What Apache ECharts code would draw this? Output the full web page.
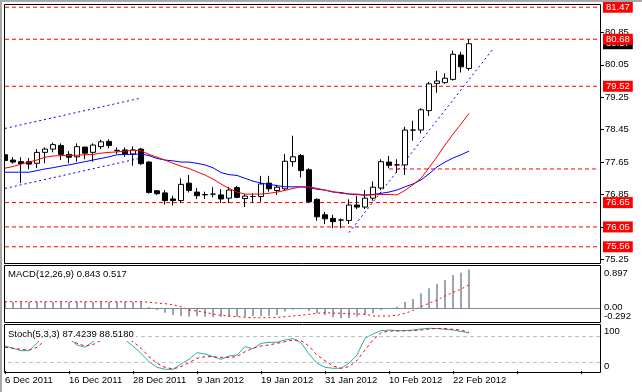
<!DOCTYPE html>
<html><head><meta charset="utf-8">
<script src="https://cdn.jsdelivr.net/npm/echarts@6/dist/echarts.min.js"></script>
<style>html,body{margin:0;padding:0;background:#fff}#c{width:642px;height:392px}</style>
</head><body><div id="c"></div>
<script>
const dates = ['6 Dec 2011','7 Dec 2011','8 Dec 2011','9 Dec 2011','12 Dec 2011','13 Dec 2011','14 Dec 2011','15 Dec 2011','16 Dec 2011','19 Dec 2011','20 Dec 2011','21 Dec 2011','22 Dec 2011','23 Dec 2011','26 Dec 2011','27 Dec 2011','28 Dec 2011','29 Dec 2011','30 Dec 2011','2 Jan 2012','3 Jan 2012','4 Jan 2012','5 Jan 2012','6 Jan 2012','9 Jan 2012','10 Jan 2012','11 Jan 2012','12 Jan 2012','13 Jan 2012','16 Jan 2012','17 Jan 2012','18 Jan 2012','19 Jan 2012','20 Jan 2012','23 Jan 2012','24 Jan 2012','25 Jan 2012','26 Jan 2012','27 Jan 2012','30 Jan 2012','31 Jan 2012','1 Feb 2012','2 Feb 2012','3 Feb 2012','6 Feb 2012','7 Feb 2012','8 Feb 2012','9 Feb 2012','10 Feb 2012','13 Feb 2012','14 Feb 2012','15 Feb 2012','16 Feb 2012','17 Feb 2012','20 Feb 2012','21 Feb 2012','22 Feb 2012','23 Feb 2012','24 Feb 2012'];
const futureSlots = 16;

const openP  = [77.83,77.70,77.66,77.66,77.62,77.89,77.97,78.06,77.84,77.78,78.02,77.89,78.03,78.16,77.94,77.95,77.85,77.97,77.65,76.94,76.89,76.74,76.70,77.13,76.91,76.85,76.86,76.84,76.76,77.02,76.75,76.80,76.80,77.13,76.95,76.99,77.66,77.81,77.46,76.73,76.35,76.26,76.22,76.21,76.59,76.54,76.76,77.01,77.65,77.58,77.58,78.44,78.44,78.92,79.59,79.61,79.69,80.29,79.96];
const closeP = [77.69,77.65,77.61,77.60,77.89,77.97,78.08,77.84,77.77,78.03,77.87,78.07,78.15,78.06,77.93,77.85,77.95,77.61,76.90,76.87,76.70,76.70,77.10,76.95,76.82,76.84,76.86,76.74,76.96,76.78,76.81,76.80,77.11,76.99,77.03,77.67,77.78,77.44,76.67,76.30,76.25,76.18,76.22,76.59,76.54,76.76,77.03,77.66,77.57,77.58,78.44,78.44,78.94,79.58,79.65,79.72,80.31,80.00,80.57];
const lowP   = [77.63,77.61,77.13,77.47,77.50,77.62,77.89,77.70,77.62,77.66,77.72,77.66,77.97,77.99,77.85,77.78,77.56,77.58,76.87,76.84,76.60,76.58,76.64,76.90,76.74,76.74,76.78,76.64,76.64,76.76,76.54,76.64,76.67,76.92,76.84,76.96,77.54,77.27,76.65,76.20,76.12,76.02,76.02,76.12,76.49,76.49,76.70,76.96,77.50,77.38,77.33,78.18,78.36,78.79,79.36,79.58,79.66,79.86,79.91];
const highP  = [77.87,77.77,77.77,77.75,77.97,78.01,78.13,78.11,77.92,78.11,78.03,78.11,78.20,78.21,78.01,78.01,78.04,78.00,77.67,76.96,76.96,76.82,77.25,77.33,77.01,76.92,77.03,76.98,77.04,77.06,76.86,76.88,77.31,77.31,77.09,77.85,78.30,77.85,77.50,76.76,76.42,76.35,76.26,76.73,76.82,76.96,77.17,77.72,77.80,77.72,78.52,78.67,78.98,79.63,79.90,79.84,80.40,80.37,80.68];

const maFast = [77.50,77.54,77.60,77.65,77.70,77.77,77.80,77.81,77.81,77.82,77.83,77.84,77.87,77.89,77.90,77.92,77.94,77.93,77.84,77.77,77.70,77.62,77.55,77.49,77.41,77.33,77.23,77.11,77.00,76.91,76.86,76.86,76.86,76.88,76.91,76.95,77.00,77.04,77.04,77.00,76.96,76.92,76.88,76.86,76.86,76.84,76.84,76.85,76.85,76.84,76.95,77.09,77.25,77.51,77.78,78.07,78.34,78.59,78.85];
const maSlow = [77.40,77.40,77.40,77.40,77.44,77.48,77.51,77.55,77.58,77.62,77.66,77.70,77.74,77.78,77.83,77.84,77.84,77.85,77.81,77.74,77.70,77.68,77.65,77.65,77.62,77.58,77.51,77.39,77.34,77.32,77.25,77.18,77.13,77.10,77.07,77.04,77.04,77.04,77.02,76.98,76.96,76.91,76.90,76.86,76.85,76.83,76.85,76.88,76.91,76.96,77.04,77.11,77.21,77.36,77.53,77.65,77.75,77.83,77.92];

const channelUpper = [[0,78.48],[17,79.23]];
const channelLower = [[0,77.00],[17,77.75]];
const supportLine  = [[43,75.91],[61,80.44]];

const levelLines = [81.47,80.68,79.52,76.65,76.05,75.56];
const partialLevel = 77.48;
const partialLevelFrom = 48;
const priceTicks = [80.85,80.05,79.25,78.45,77.65,76.85,76.05,75.25];

const macdHist = [0.143,0.143,0.143,0.143,0.143,0.143,0.143,0.143,0.143,0.143,0.143,0.143,0.143,0.143,0.143,0.143,0.143,0.143,0.03,-0.037,-0.096,-0.146,-0.167,-0.182,-0.167,-0.182,-0.196,-0.182,-0.182,-0.182,-0.182,-0.167,-0.167,-0.167,-0.146,-0.07,-0.03,-0.02,-0.06,-0.109,-0.146,-0.196,-0.217,-0.217,-0.182,-0.146,-0.109,-0.037,0.0,0.035,0.143,0.202,0.326,0.435,0.528,0.615,0.724,0.774,0.843];
const macdSignal = [0.143,0.143,0.143,0.143,0.143,0.143,0.143,0.143,0.143,0.143,0.143,0.143,0.143,0.143,0.143,0.143,0.143,0.143,0.130,0.115,0.100,0.078,0.035,-0.037,-0.059,-0.087,-0.124,-0.152,-0.167,-0.182,-0.196,-0.204,-0.204,-0.204,-0.196,-0.182,-0.167,-0.152,-0.130,-0.109,-0.096,-0.103,-0.109,-0.117,-0.124,-0.130,-0.167,-0.167,-0.167,-0.152,-0.109,-0.050,0.035,0.109,0.180,0.267,0.348,0.413,0.517];
const macdTicks = [0.897,0,-0.292];

const stochK = [57.2,52,46.5,46.5,63.3,85,90,86,74.7,59.5,54.2,67,82,88,86,70.9,57.2,40.5,21.5,8.6,4.1,4.1,16.2,26.9,42,39,32.9,26.9,34.4,36.7,55.7,51.1,63.3,65.6,65.6,70.9,73.9,64.8,39,17.8,8.6,6.4,6.4,17.8,36.7,74.7,84.6,92.2,93.7,92.2,92.2,93.7,96,97.5,97,95.3,93.7,90.5,87.4239];
const stochD = [54.2,52,49.7,48,54.2,70,80,87,72.4,63.3,57.2,60.5,70,80,85,77,67,52,32.9,17.8,8.6,4.8,10.1,19.3,29.2,32.9,32.9,31.4,31.4,32.9,44.3,52,57.2,59.5,63.3,67,70.9,69.4,57.2,36.7,23.8,11.6,6.4,10.1,23.8,48.1,70.9,87.6,91.4,91.4,92.2,92.2,93.7,95.9,97.5,97,95.3,93.7,88.518];
const stochLevels = [80,20];
const stochTicks = [100,0];

const FONT = '"Liberation Sans", Arial, sans-serif';
const FS = 9.5;
const RED = '#ff0000';
const cats = dates.concat(new Array(futureSlots).fill(''));
const lastCat = cats.length - 1;
const candleData = dates.map((d,i)=>[openP[i],closeP[i],lowP[i],highP[i]]);
const lastIdx = dates.length - 1;
const MACD_MIN = -0.298, MACD_MAX = 0.941;

function boxLabel(bg){
  return {show:true, position:'end', distance:2, formatter:p=>Number(p.value).toFixed(2),
    color:'#fff', backgroundColor:bg, padding:[1,3,0,3], fontSize:FS, fontFamily:FONT, lineHeight:10, opacity:1};
}
const labelData = [{yAxis:closeP[lastIdx], label:boxLabel('#000')}]
  .concat(levelLines.map(v=>({yAxis:v, label:boxLabel(RED)})));

const txt = {fontSize:FS, fontFamily:FONT, color:'#000'};
const fmtMacd = v => v===0 ? '0.00' : v.toFixed(3);

const levelSeries = levelLines.map(v=>({
  type:'line', xAxisIndex:0, yAxisIndex:0, data:[[0,v],[lastCat,v]], symbol:'none', color:RED,
  lineStyle:{color:RED, width:1, type:[4,3]}, z:3, silent:true
}));

const chart = echarts.init(document.getElementById('c'), null, {renderer:'canvas'});
chart.setOption({
  animation:false,
  backgroundColor:'#fff',
  title:[
    {text:'MACD(12,26,9) 0.843 0.517', left:6, top:268, padding:[1,2], backgroundColor:'#fff',
     textStyle:Object.assign({fontWeight:'normal', lineHeight:11}, txt)},
    {text:'Stoch(5,3,3) '+stochK[lastIdx].toFixed(4)+' '+stochD[lastIdx].toFixed(4), left:6, top:328, padding:[1,2], backgroundColor:'#fff',
     textStyle:Object.assign({fontWeight:'normal', lineHeight:11}, txt)}
  ],
  grid:[
    {left:1, width:600, top:4, height:259},
    {left:1, width:600, top:265, height:57},
    {left:1, width:600, top:324, height:48}
  ],
  xAxis:[
    {type:'category', gridIndex:0, data:cats, show:false},
    {type:'category', gridIndex:1, data:cats, show:false},
    {type:'category', gridIndex:2, data:cats, axisLine:{show:false},
     axisTick:{show:true, alignWithLabel:true, interval:7, length:3, lineStyle:{color:'#000'}},
     axisLabel:Object.assign({interval:7, align:'left', margin:3, hideOverlap:false}, txt)}
  ],
  yAxis:[
    {type:'value', gridIndex:0, position:'right', min:75.16, max:81.55, splitLine:{show:false}, axisLine:{show:false},
     axisTick:{show:true, customValues:priceTicks, length:3, lineStyle:{color:'#000'}},
     axisLabel:Object.assign({customValues:priceTicks, formatter:v=>v.toFixed(2), margin:4, padding:[0,0,4,0], hideOverlap:false}, txt)},
    {type:'value', gridIndex:1, position:'right', min:MACD_MIN, max:MACD_MAX, splitLine:{show:false}, axisLine:{show:false}, axisTick:{show:false},
     axisLabel:{customValues:[macdTicks[0], macdTicks[1]], margin:3, hideOverlap:false,
       formatter:v=> v===macdTicks[0] ? '{t|'+fmtMacd(v)+'}' : '{m|'+fmtMacd(v)+'}',
       rich:{t:Object.assign({padding:[12,0,0,0]},txt), m:Object.assign({padding:[0,0,2,0]},txt)}}},
    {type:'value', gridIndex:2, position:'right', min:-2.1, max:107.4, splitLine:{show:false}, axisLine:{show:false}, axisTick:{show:false},
     axisLabel:{customValues:stochTicks, margin:3, hideOverlap:false,
       formatter:v=> v===stochTicks[0] ? '{t|'+v+'}' : '{b|'+v+'}',
       rich:{t:Object.assign({padding:[8,0,0,0]},txt), b:Object.assign({padding:[0,0,10,0]},txt)}}},
    {type:'value', gridIndex:1, position:'right', min:MACD_MIN, max:MACD_MAX, splitLine:{show:false}, axisLine:{show:false}, axisTick:{show:false},
     axisLabel:Object.assign({customValues:[macdTicks[2]], margin:3, hideOverlap:false, verticalAlign:'bottom', formatter:fmtMacd}, txt)}
  ],
  series: levelSeries.concat([
    {type:'line', xAxisIndex:0, yAxisIndex:0, data:channelUpper, symbol:'none', color:'#0000ff', lineStyle:{color:'#0000ff', width:1, type:[2,3]}, z:3},
    {type:'line', xAxisIndex:0, yAxisIndex:0, data:channelLower, symbol:'none', color:'#0000ff', lineStyle:{color:'#0000ff', width:1, type:[2,3]}, z:3},
    {type:'line', xAxisIndex:0, yAxisIndex:0, data:supportLine, symbol:'none', color:'#0000ff', lineStyle:{color:'#0000ff', width:1, type:[2,3]}, z:3},
    {type:'line', xAxisIndex:0, yAxisIndex:0, data:[[partialLevelFrom,partialLevel],[lastCat,partialLevel]], symbol:'none', color:RED, lineStyle:{color:RED, width:1, type:[4,3]}, z:3},
    {type:'candlestick', xAxisIndex:0, yAxisIndex:0, data:candleData, barWidth:5,
     itemStyle:{color:'#fff', color0:'#000', borderColor:'#000', borderColor0:'#000', borderColorDoji:'#000', borderWidth:1}, z:4,
     markLine:{silent:true, symbol:['none','none'], lineStyle:{color:'rgba(0,0,0,0)', width:1}, data:labelData}},
    {type:'line', xAxisIndex:0, yAxisIndex:0, data:maSlow, symbol:'none', color:'#0000ff', lineStyle:{color:'#0000ff', width:1}, z:5},
    {type:'line', xAxisIndex:0, yAxisIndex:0, data:maFast, symbol:'none', color:RED, lineStyle:{color:RED, width:1}, z:5},
    {type:'bar', xAxisIndex:1, yAxisIndex:1, data:macdHist, barWidth:1.5, itemStyle:{color:'#7b8896'},
     markLine:{silent:true, symbol:['none','none'], label:{show:false}, lineStyle:{color:'#7b8896', type:'solid', width:1}, data:[{yAxis:0}]}},
    {type:'line', xAxisIndex:1, yAxisIndex:1, data:macdSignal, symbol:'none', color:RED, lineStyle:{color:RED, width:1, type:[2,3]}},
    {type:'line', xAxisIndex:2, yAxisIndex:2, data:stochK, symbol:'none', color:'#20b2aa', lineStyle:{color:'#20b2aa', width:1},
     markLine:{silent:true, symbol:['none','none'], label:{show:false}, lineStyle:{color:'#c0c0c0', type:[4,3], width:1}, data:stochLevels.map(v=>({yAxis:v}))}},
    {type:'line', xAxisIndex:2, yAxisIndex:2, data:stochD, symbol:'none', color:RED, lineStyle:{color:RED, width:1, type:[3,3]}}
  ]),
  graphic:[
    {type:'rect', z:100, shape:{x:0,y:0,width:4,height:392}, style:{fill:'#fff'}},
    {type:'rect', z:101, shape:{x:0,y:0,width:642,height:2}, style:{fill:'#a8a8a8'}},
    {type:'rect', z:101, shape:{x:0,y:0,width:2,height:392}, style:{fill:'#a8a8a8'}},
    {type:'rect', z:101, shape:{x:4.5,y:4.5,width:596,height:259}, style:{fill:'none', stroke:'#000', lineWidth:1}},
    {type:'rect', z:101, shape:{x:4.5,y:265.5,width:596,height:57}, style:{fill:'none', stroke:'#000', lineWidth:1}},
    {type:'rect', z:101, shape:{x:4.5,y:324.5,width:596,height:48}, style:{fill:'none', stroke:'#000', lineWidth:1}}
  ]
});
</script></body></html>
